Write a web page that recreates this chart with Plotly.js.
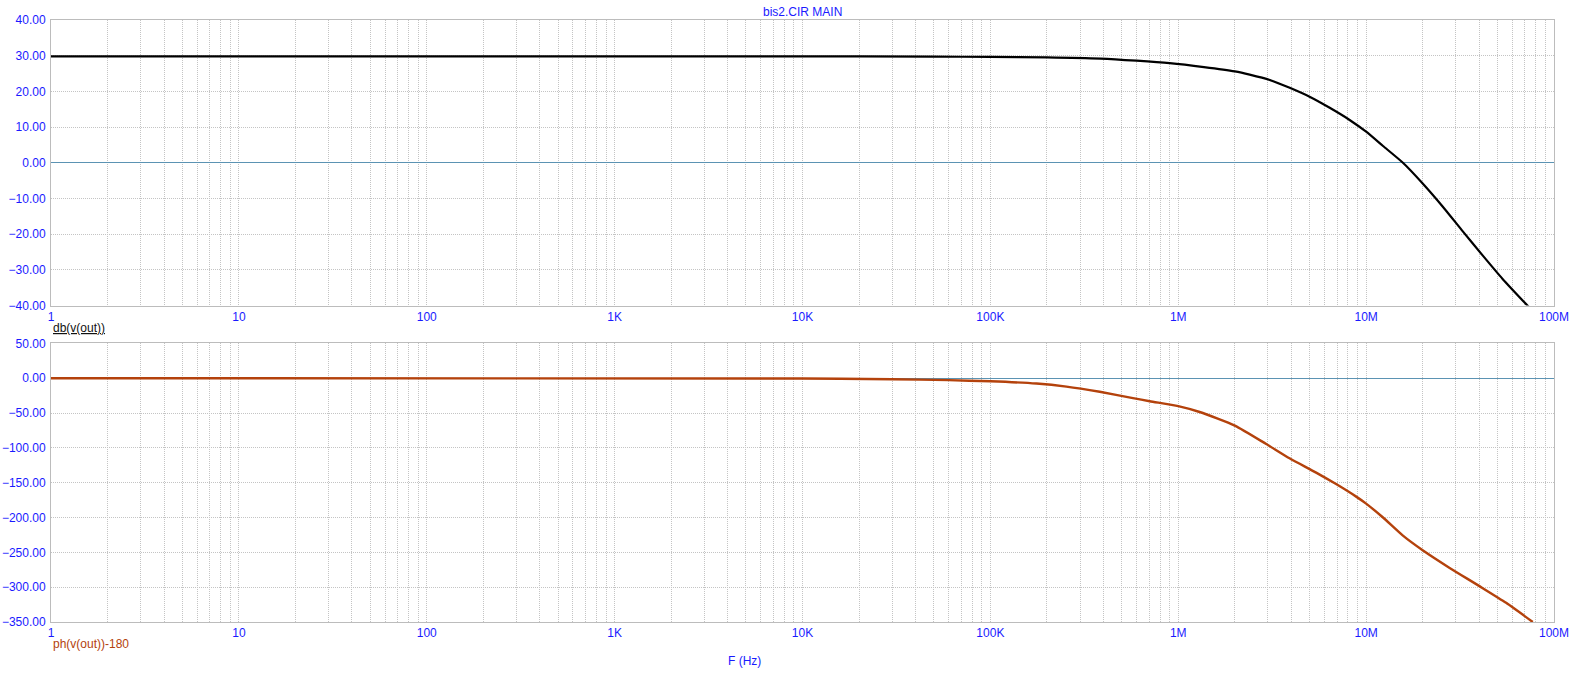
<!DOCTYPE html>
<html>
<head>
<meta charset="utf-8">
<script src="https://cdn.plot.ly/plotly-3.0.1.min.js"></script>
<style>html,body{margin:0;padding:0;background:#fff;}#chart{width:1589px;height:679px;}</style>
</head>
<body>
<div id="chart"></div>
<script>
// Magnitude (dB) trace
const magFreq = [1, 1e4, 5e4, 1e5, 2e5, 3.86e5, 6e5, 9e5, 1.37e6, 2e6, 2.4e6, 3.07e6, 3.92e6, 5e6, 6.4e6, 8.17e6, 1e7, 1.23e7, 1.57e7, 2e7, 2.56e7, 3.27e7, 4.18e7, 5.34e7, 7.41e7];
const magDb   = [29.8, 29.8, 29.75, 29.65, 29.55, 29.2, 28.6, 27.9, 26.8, 25.6, 24.7, 23.2, 21.0, 18.5, 15.4, 12.0, 8.7, 4.7, 0, -5.8, -12.3, -19.2, -26.0, -32.6, -40.6];
// Phase trace
const phFreq = [1, 1e4, 3e4, 6e4, 1e5, 1.76e5, 2.54e5, 3.82e5, 5.74e5, 7.05e5, 1e6, 1.3e6, 2e6, 2.94e6, 3.91e6, 5.42e6, 6.92e6, 8.85e6, 1e7, 1.23e7, 1.57e7, 2e7, 2.77e7, 4.01e7, 5.56e7, 7.71e7];
const phDeg  = [0, -0.4, -1.4, -2.8, -4.4, -7.6, -12, -19.5, -28.5, -33, -40, -48.5, -68, -94.5, -115, -135.5, -152, -170, -180, -200, -226, -247, -272, -298.5, -322.5, -350];
// Axis ticks
const xTickVals = [1, 10, 100, 1e3, 1e4, 1e5, 1e6, 1e7, 1e8];
const xTickText = ["1", "10", "100", "1K", "10K", "100K", "1M", "10M", "100M"];
const magTicks = [-40, -30, -20, -10, 0, 10, 20, 30, 40];
const phTicks = [-350, -300, -250, -200, -150, -100, -50, 0, 50];

const minorVals = [];
for (let d = 0; d < 8; d++) for (let k = 2; k <= 9; k++) minorVals.push(k * Math.pow(10, d));

const FONT = "Liberation Sans, Arial, sans-serif";
const BLUE = "#1a1aff";
const GRID = "#c4c4c4";
const LINEC = "#bcbcbc";

function xax(anchor) {
  return {
    type: "log", range: [0, 8], anchor: anchor,
    tickvals: xTickVals, ticktext: xTickText,
    tickfont: {family: FONT, size: 12, color: BLUE},
    showgrid: true, gridcolor: GRID, griddash: "1px,1px", gridwidth: 1,
    minor: {tickvals: minorVals, showgrid: true, gridcolor: GRID, griddash: "1px,1px", gridwidth: 1, ticks: ""},
    showline: true, linecolor: LINEC, linewidth: 1, mirror: true,
    ticks: "", zeroline: false, fixedrange: true
  };
}
function yax(anchor, domain, range, ticks) {
  return {
    anchor: anchor, domain: domain, range: range,
    tickvals: ticks, tickformat: ".2f",
    tickfont: {family: FONT, size: 12, color: BLUE},
    showgrid: true, gridcolor: GRID, griddash: "1px,1px", gridwidth: 1,
    showline: true, linecolor: LINEC, linewidth: 1, mirror: true,
    ticks: "", ticklabelstandoff: 2,
    zeroline: true, zerolinecolor: "#5b93b3", zerolinewidth: 1, fixedrange: true
  };
}

const traces = [
  {x: magFreq, y: magDb, xaxis: "x", yaxis: "y", mode: "lines",
   line: {color: "#000000", width: 2.2, shape: "spline", smoothing: 0.6}, hoverinfo: "skip"},
  {x: phFreq, y: phDeg, xaxis: "x2", yaxis: "y2", mode: "lines",
   line: {color: "#b4420c", width: 2.4, shape: "spline", smoothing: 0.6}, hoverinfo: "skip"}
];

const layout = {
  width: 1589, height: 679,
  margin: {l: 50.5, r: 34.5, t: 19.5, b: 56.7},
  paper_bgcolor: "#ffffff", plot_bgcolor: "#ffffff",
  showlegend: false,
  xaxis: xax("y"),
  xaxis2: xax("y2"),
  yaxis: yax("x", [0.5256, 1], [-40, 40], magTicks),
  yaxis2: yax("x2", [0, 0.4628], [-350, 50], phTicks),
  annotations: [
    {text: "bis2.CIR MAIN", xref: "paper", yref: "paper", x: 0.5, y: 1, yshift: 8, xanchor: "center", yanchor: "middle",
     showarrow: false, font: {family: FONT, size: 12, color: BLUE}},
    {text: "<u>db(v(out))</u>", xref: "paper", yref: "paper", x: 0, y: 0.5256, yshift: -22, xanchor: "left", yanchor: "middle",
     showarrow: false, font: {family: FONT, size: 12, color: "#111111"}},
    {text: "ph(v(out))-180", xref: "paper", yref: "paper", x: 0, y: 0, yshift: -22, xanchor: "left", yanchor: "middle",
     showarrow: false, font: {family: FONT, size: 12, color: "#b4420c"}},
    {text: "F (Hz)", xref: "paper", yref: "paper", x: 0.4615, y: 0, yshift: -38.5, xanchor: "center", yanchor: "middle",
     showarrow: false, font: {family: FONT, size: 12, color: BLUE}}
  ]
};

Plotly.newPlot("chart", traces, layout, {staticPlot: true, displayModeBar: false});
</script>
</body>
</html>
